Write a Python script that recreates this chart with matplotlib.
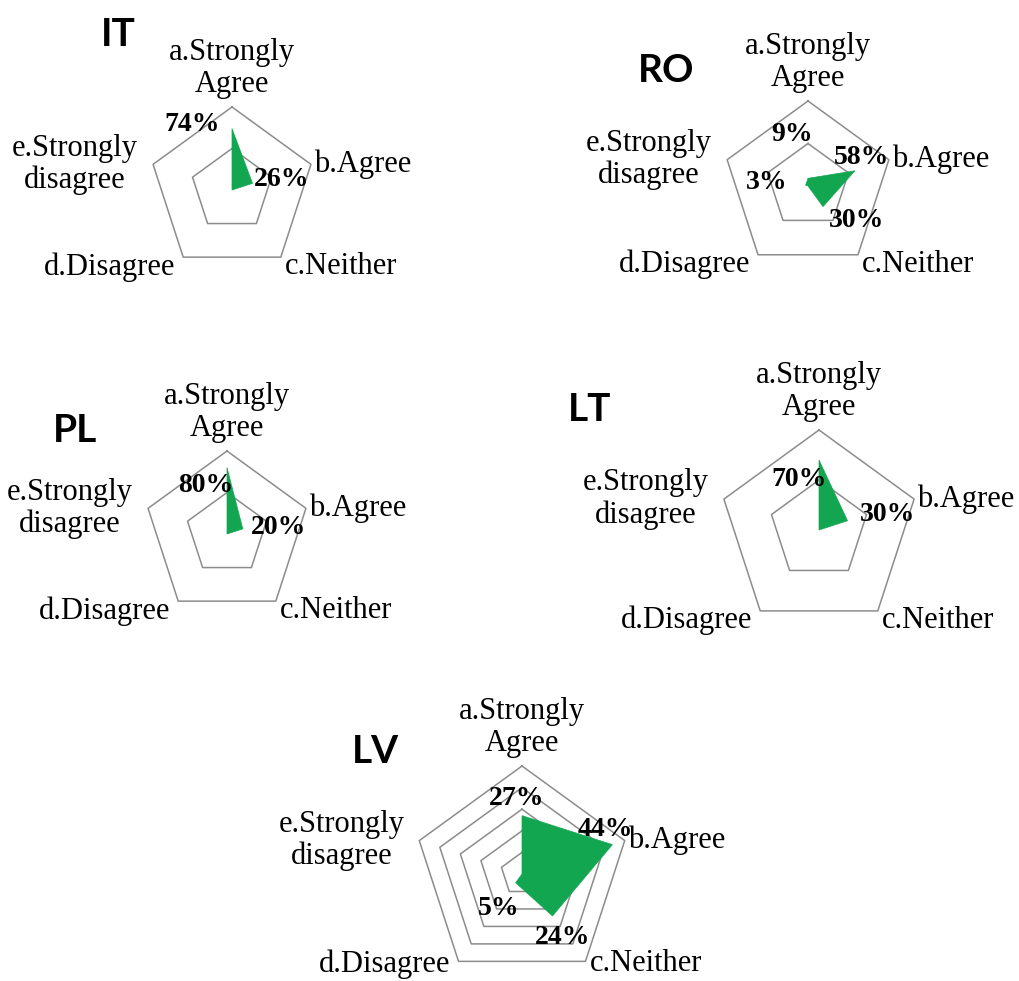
import numpy as np
import matplotlib
matplotlib.use('Agg')
from matplotlib import pyplot as plt

# data
categories = ['a.Strongly\nAgree', 'b.Agree', 'c.Neither', 'd.Disagree', 'e.Strongly\ndisagree']
countries = ['IT', 'RO', 'PL', 'LT', 'LV']
it_values = [0.74, 0.26, 0.0, 0.0, 0.0]
ro_values = [0.09, 0.58, 0.30, 0.0, 0.03]
pl_values = [0.80, 0.20, 0.0, 0.0, 0.0]
lt_values = [0.70, 0.30, 0.0, 0.0, 0.0]
lv_values = [0.27, 0.44, 0.24, 0.05, 0.0]
all_values = [it_values, ro_values, pl_values, lt_values, lv_values]
axis_max = [1.0, 1.0, 1.0, 1.0, 0.5]
grid_step = [0.5, 0.5, 0.5, 0.5, 0.1]

# layout (pixels): chart centre, radius, title baseline position
W, H = 1019, 981
centres = [(232, 190), (808, 186), (227, 534), (819, 530), (522, 874)]
radius = [83, 85, 83, 100, 108]
title_pos = [(118, 46), (666, 82), (75, 442), (590, 421), (375, 763)]
# extra upward shift of the bottom category labels (keeps LV inside the figure)
bottom_shift = [0, 0, 0, 0, -7]
# data label offsets (px, right / down) from the data point
label_off = [
    {0: (-40, -6), 1: (29, -6)},
    {0: (-16, -46), 1: (7, -15), 2: (34, 12), 4: (-39, -5)},
    {0: (-21, 16), 1: (36, -3)},
    {0: (-20, 17), 1: (40, -8)},
    {0: (-5, -19), 1: (-7, -17), 2: (10, 20), 3: (-17, 24)},
]
# category label placement per spoke
cat_style = [
    dict(off=(0, -8), ha='center', va='bottom'),
    dict(off=(3, 0), ha='left', va='center'),
    dict(off=(4, -5), ha='left', va='top'),
    dict(off=(-8, -5), ha='right', va='top'),
    dict(off=(-15, 0), ha='right', va='center'),
]

green = '#12a651'
grey = '#8c8c8c'
serif = 'Liberation Serif'
px2pt = 72 / 100

angles = np.arange(5) * 2 * np.pi / 5

fig = plt.figure(figsize=(W / 100, H / 100), dpi=100)
fig.patch.set_facecolor('white')

for k in range(5):
    cx, cy = centres[k]
    R = radius[k]
    rmax = axis_max[k]
    ax = fig.add_axes([(cx - R) / W, 1 - (cy + R) / H, 2 * R / W, 2 * R / H])
    ax.set_xlim(-rmax, rmax)
    ax.set_ylim(-rmax, rmax)
    ax.axis('off')

    # pentagon gridlines
    for r in np.arange(grid_step[k], rmax + 1e-9, grid_step[k]):
        gx = np.append(r * np.sin(angles), 0)
        gy = np.append(r * np.cos(angles), 0)
        gx[-1], gy[-1] = gx[0], gy[0]
        ax.plot(gx, gy, color=grey, lw=1.1, clip_on=False)

    # data polygon
    vals = np.array(all_values[k])
    px = vals * np.sin(angles)
    py = vals * np.cos(angles)
    ax.fill(px, py, color=green, lw=0.5, ec=green, clip_on=False, zorder=3)

    # data labels
    for i, (dx, dy) in label_off[k].items():
        ax.annotate('%d%%' % round(vals[i] * 100), (px[i], py[i]),
                    xytext=(dx * px2pt, -(dy + 2) * px2pt), textcoords='offset points',
                    ha='center', va='center', fontsize=20, fontweight='bold',
                    family=serif, zorder=5, annotation_clip=False)

    # category labels
    for i in range(5):
        st = cat_style[i]
        ox, oy = st['off']
        if i in (2, 3):
            oy += bottom_shift[k]
        vx, vy = rmax * np.sin(angles[i]), rmax * np.cos(angles[i])
        ax.annotate(categories[i], (vx, vy),
                    xytext=(ox * px2pt, -oy * px2pt),
                    textcoords='offset points', ha=st['ha'], va=st['va'],
                    multialignment='center', fontsize=22, family=serif,
                    linespacing=1.12, annotation_clip=False)

    # country title
    tx, ty = title_pos[k]
    fig.text(tx / W, 1 - ty / H, countries[k], ha='center', va='baseline',
             fontsize=28, fontweight='bold', family='Lato')

fig.savefig('out.png', dpi=100, facecolor='white')
